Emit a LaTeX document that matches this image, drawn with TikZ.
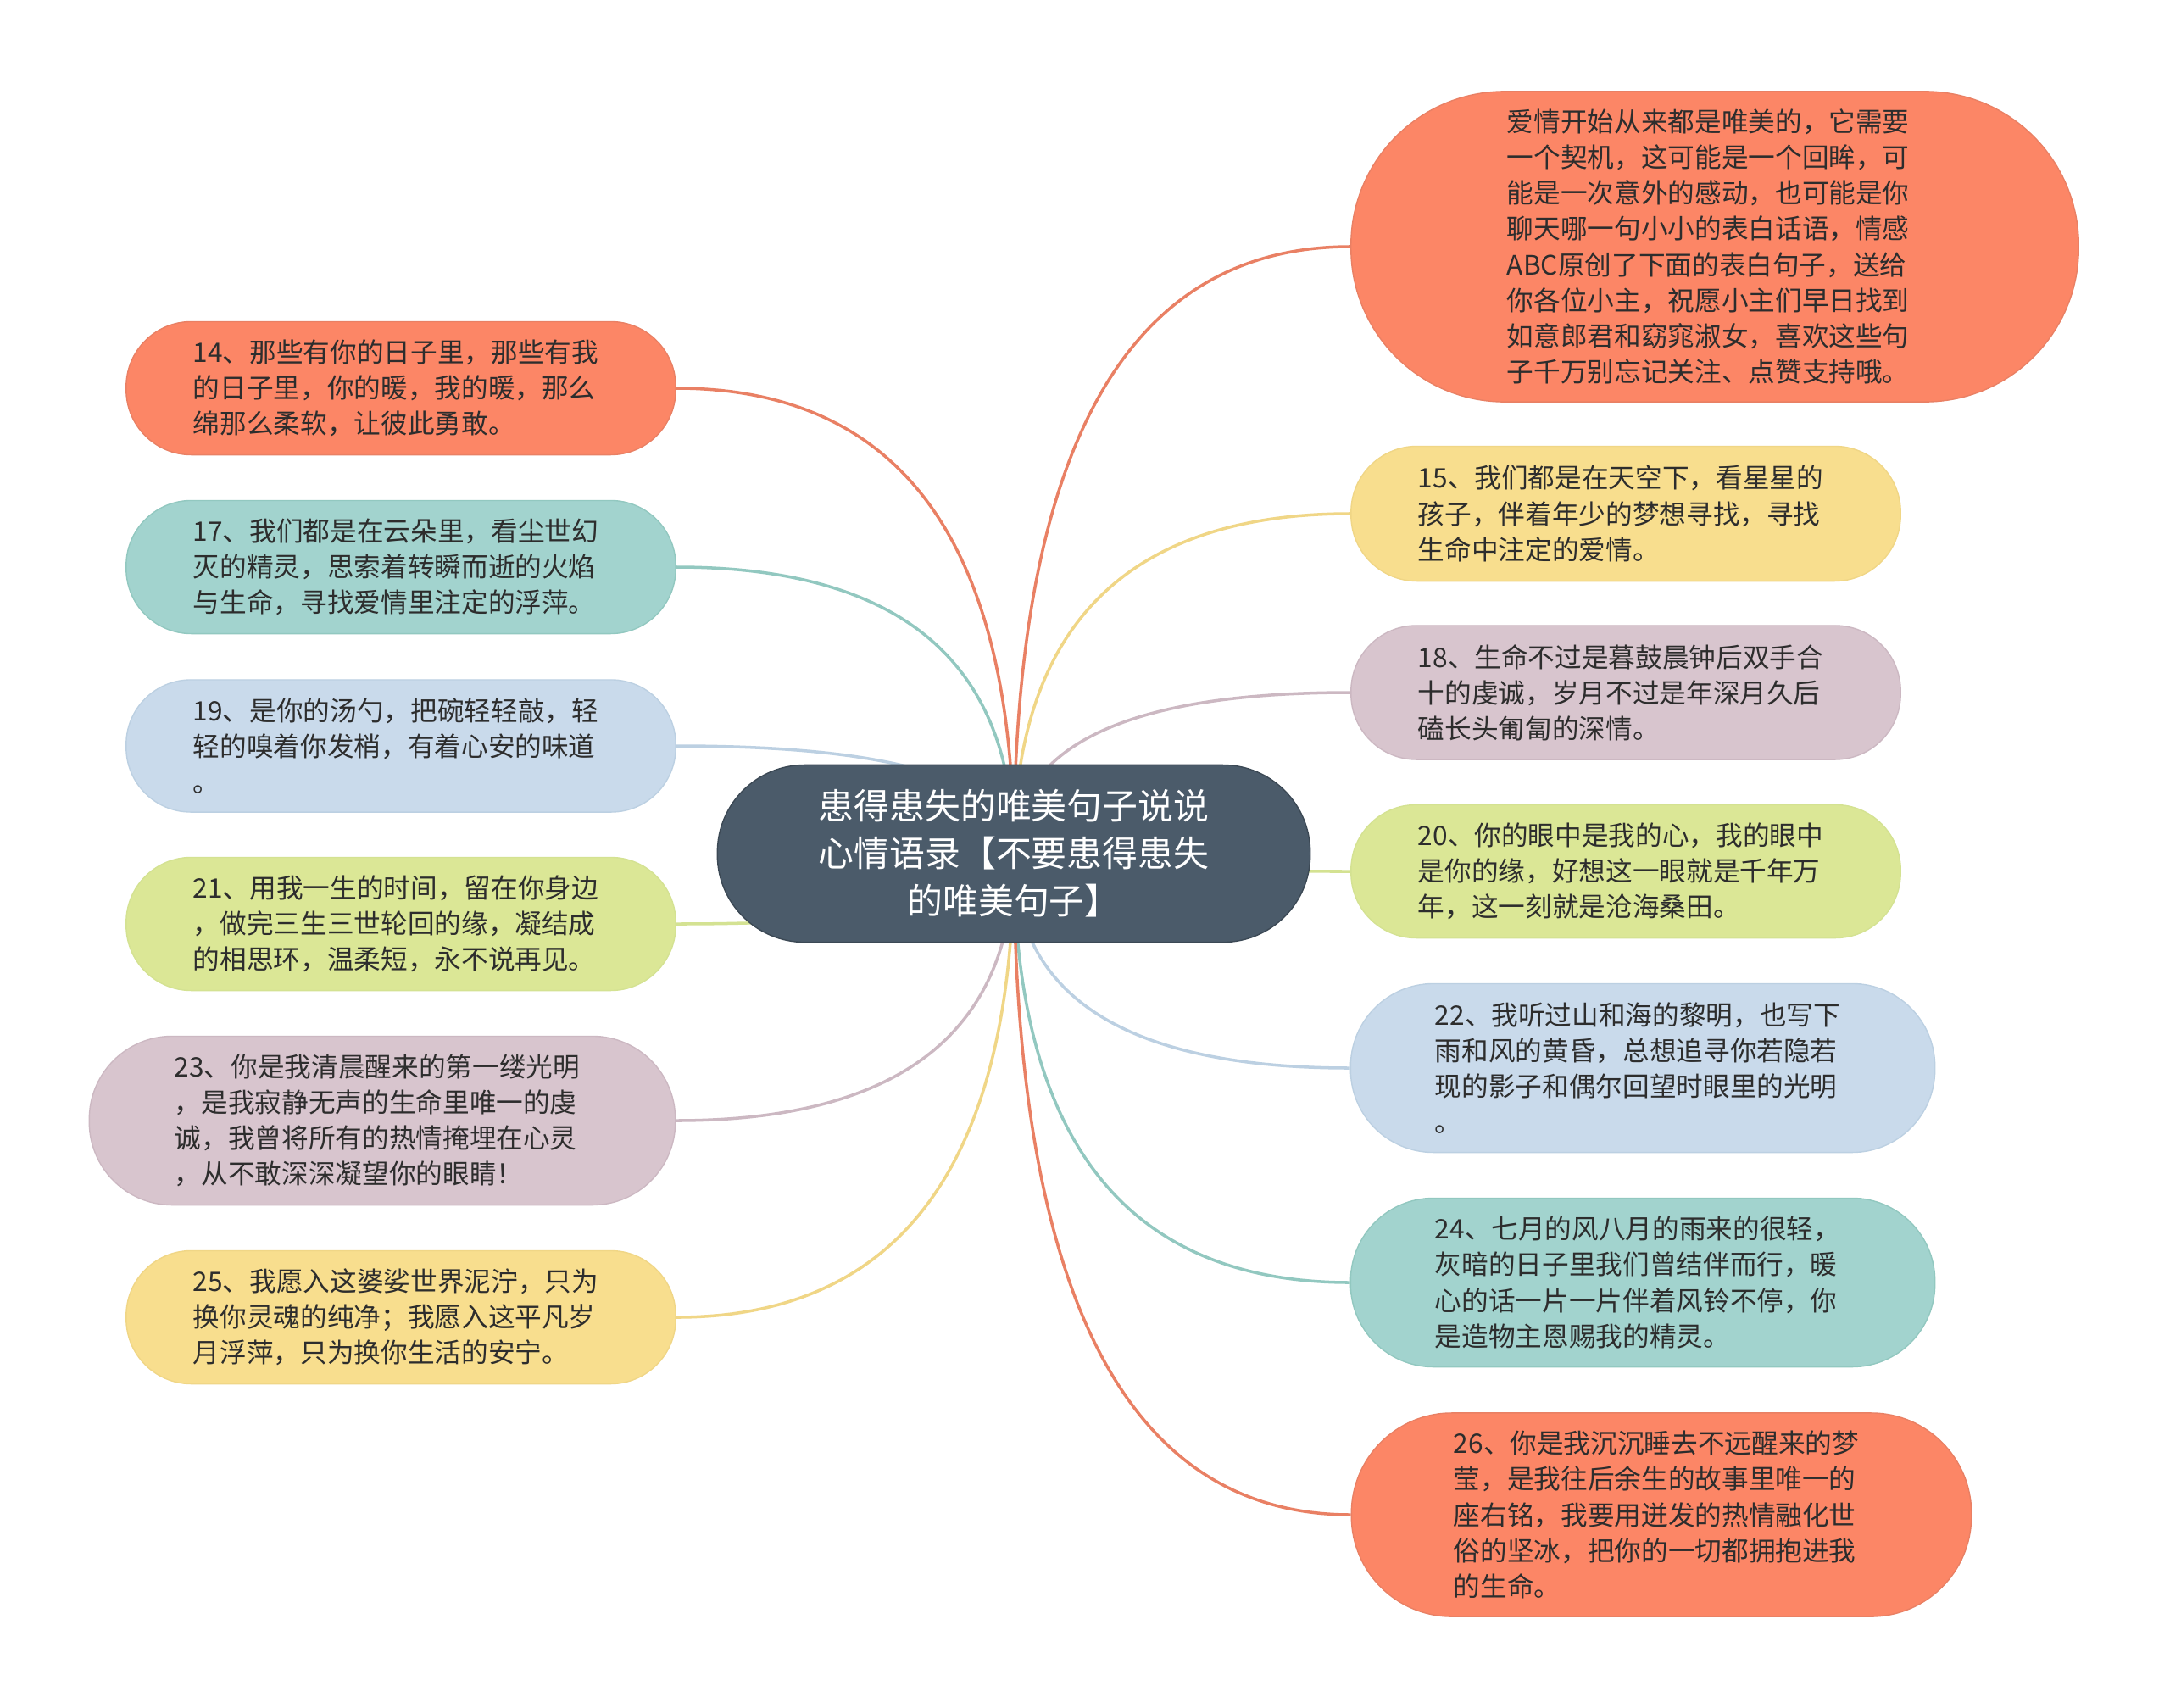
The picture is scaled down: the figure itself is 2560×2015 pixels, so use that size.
\documentclass[tikz,border=0pt]{standalone}
\usepackage{fontspec}
\newfontfamily\cjk{Noto Sans CJK SC}
\usetikzlibrary{calc}
\pgfdeclarelayer{bg}
\pgfsetlayers{bg,main}
\definecolor{cOr}{RGB}{252,134,102}
\definecolor{cOrE}{RGB}{233,128,100}
\definecolor{cYe}{RGB}{248,222,142}
\definecolor{cYeE}{RGB}{240,214,134}
\definecolor{cMa}{RGB}{216,197,206}
\definecolor{cMaE}{RGB}{204,184,194}
\definecolor{cGr}{RGB}{219,231,150}
\definecolor{cGrE}{RGB}{212,226,146}
\definecolor{cBl}{RGB}{201,218,235}
\definecolor{cBlE}{RGB}{188,208,226}
\definecolor{cTe}{RGB}{162,211,206}
\definecolor{cTeE}{RGB}{146,200,192}
\definecolor{cCe}{RGB}{75,91,106}
\definecolor{cTx}{RGB}{45,45,45}
\tikzset{
  leaf/.style n args={4}{fill=#1, draw=#2, line width=0.4pt,
    minimum width=#3, minimum height=#4, rounded corners=#4/2-0.5pt,
    text width=4.9cm, align=left, text=cTx,
    font=\cjk\fontsize{9}{12}\selectfont},
  edge/.style={line width=1pt}
}
\begin{document}
\begin{tikzpicture}[x=0.01cm,y=-0.01cm]
\useasboundingbox (0,0) rectangle (2560,2015);

\node[fill=cCe, draw=cCe!80!black, line width=0.4pt, minimum width=6.99cm, minimum height=2.09cm,
  rounded corners=1.03cm, text=white, align=center,
  font=\cjk\fontsize{11.9}{15.9}\selectfont] (c) at (1196,1007)
  {患得患失的唯美句子说说\\心情语录【不要患得患失\\的唯美句子】};

% right side
\node[leaf={cOr}{cOrE}{8.58cm}{3.66cm}] (r0) at (2023,291)
  {爱情开始从来都是唯美的，它需要\\一个契机，这可能是一个回眸，可\\能是一次意外的感动，也可能是你\\聊天哪一句小小的表白话语，情感\\ABC原创了下面的表白句子，送给\\你各位小主，祝愿小主们早日找到\\如意郎君和窈窕淑女，喜欢这些句\\子千万别忘记关注、点赞支持哦。};
\node[leaf={cYe}{cYeE}{6.48cm}{1.59cm}] (r1) at (1918,606)
  {15、我们都是在天空下，看星星的\\孩子，伴着年少的梦想寻找，寻找\\生命中注定的爱情。};
\node[leaf={cMa}{cMaE}{6.48cm}{1.58cm}] (r2) at (1918,817)
  {18、生命不过是暮鼓晨钟后双手合\\十的虔诚，岁月不过是年深月久后\\磕长头匍匐的深情。};
\node[leaf={cGr}{cGrE}{6.48cm}{1.57cm}] (r3) at (1918,1028)
  {20、你的眼中是我的心，我的眼中\\是你的缘，好想这一眼就是千年万\\年，这一刻就是沧海桑田。};
\node[leaf={cBl}{cBlE}{6.89cm}{1.99cm}] (r4) at (1938,1260)
  {22、我听过山和海的黎明，也写下\\雨和风的黄昏，总想追寻你若隐若\\现的影子和偶尔回望时眼里的光明\\。};
\node[leaf={cTe}{cTeE}{6.89cm}{1.99cm}] (r5) at (1938,1513)
  {24、七月的风八月的雨来的很轻，\\灰暗的日子里我们曾结伴而行，暖\\心的话一片一片伴着风铃不停，你\\是造物主恩赐我的精灵。};
\node[leaf={cOr}{cOrE}{7.31cm}{2.40cm}] (r6) at (1960,1787)
  {26、你是我沉沉睡去不远醒来的梦\\莹，是我往后余生的故事里唯一的\\座右铭，我要用迸发的热情融化世\\俗的坚冰，把你的一切都拥抱进我\\的生命。};

% left side
\node[leaf={cOr}{cOrE}{6.48cm}{1.57cm}] (l0) at (473,458)
  {14、那些有你的日子里，那些有我\\的日子里，你的暖，我的暖，那么\\绵那么柔软，让彼此勇敢。};
\node[leaf={cTe}{cTeE}{6.48cm}{1.57cm}] (l1) at (473,669)
  {17、我们都是在云朵里，看尘世幻\\灭的精灵，思索着转瞬而逝的火焰\\与生命，寻找爱情里注定的浮萍。};
\node[leaf={cBl}{cBlE}{6.48cm}{1.56cm}] (l2) at (473,880)
  {19、是你的汤勺，把碗轻轻敲，轻\\轻的嗅着你发梢，有着心安的味道\\。};
\node[leaf={cGr}{cGrE}{6.48cm}{1.57cm}] (l3) at (473,1090)
  {21、用我一生的时间，留在你身边\\，做完三生三世轮回的缘，凝结成\\的相思环，温柔短，永不说再见。};
\node[leaf={cMa}{cMaE}{6.91cm}{1.99cm}] (l4) at (451,1322)
  {23、你是我清晨醒来的第一缕光明\\，是我寂静无声的生命里唯一的虔\\诚，我曾将所有的热情掩埋在心灵\\，从不敢深深凝望你的眼睛！};
\node[leaf={cYe}{cYeE}{6.48cm}{1.57cm}] (l5) at (473,1554)
  {25、我愿入这婆娑世界泥泞，只为\\换你灵魂的纯净；我愿入这平凡岁\\月浮萍，只为换你生活的安宁。};

\begin{pgfonlayer}{bg}
\fill[white] (0,0) rectangle (2560,2015);
\foreach \n/\col in {r0/cOrE,r1/cYeE,r2/cMaE,r3/cGrE,r4/cBlE,r5/cTeE,r6/cOrE}{
  \draw[edge,draw=\col] (c.center) .. controls ($(c.center)!0.6667!(c.center |- \n.west)$)
     and ($(\n.west)!0.6667!(c.center |- \n.west)$) .. (\n.west);
}
\foreach \n/\col in {l0/cOrE,l1/cTeE,l2/cBlE,l3/cGrE,l4/cMaE,l5/cYeE}{
  \draw[edge,draw=\col] (c.center) .. controls ($(c.center)!0.6667!(c.center |- \n.east)$)
     and ($(\n.east)!0.6667!(c.center |- \n.east)$) .. (\n.east);
}
\end{pgfonlayer}
\end{tikzpicture}
\end{document}
